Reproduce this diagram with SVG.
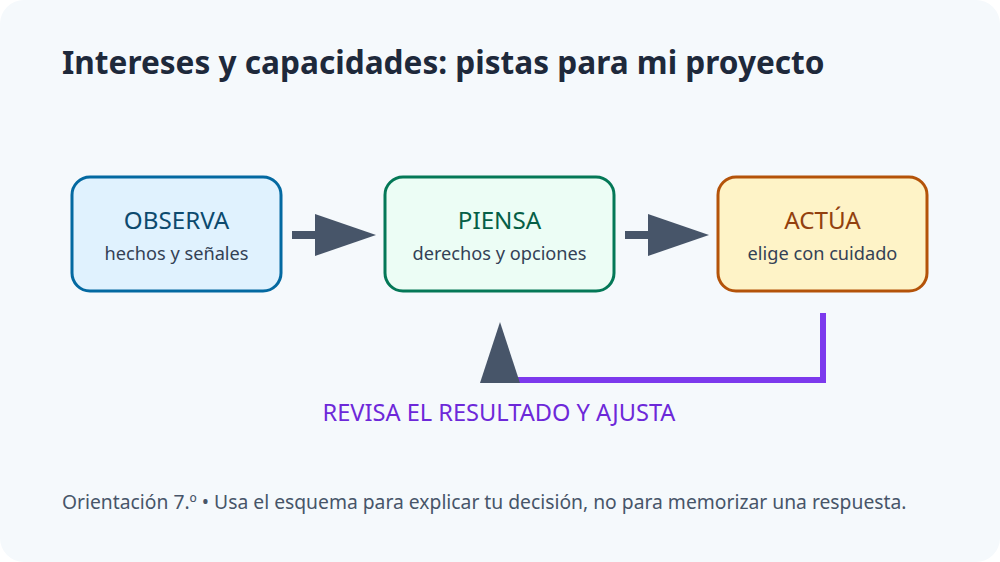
<svg xmlns="http://www.w3.org/2000/svg" width="1000" height="562" viewBox="0 0 1000 562">
<style>
text{font-family:"Noto Sans","Open Sans","DejaVu Sans",sans-serif}
.title{font-size:31.6px;font-weight:700;fill:#1e293b}
.nt{font-size:24.2px;text-anchor:middle}
.ns{font-size:18.2px;text-anchor:middle;fill:#334155}
.box{stroke-width:3}
.flow{stroke:#475569;stroke-width:8;fill:none}
.fb{stroke:#7c3aed;stroke-width:6;fill:none}
</style>
<defs>
<marker id="ah" markerUnits="userSpaceOnUse" markerWidth="62" markerHeight="42" refX="5" refY="21" orient="auto" viewBox="0 0 62 42">
<path d="M0,0 L61,21 L0,42 Z" fill="#475569"/>
</marker>
<marker id="ah2" markerUnits="userSpaceOnUse" markerWidth="62" markerHeight="42" refX="5" refY="20" orient="auto" viewBox="0 0 62 42">
<path d="M0,0 L61,20 L0,40 Z" fill="#475569"/>
</marker>
</defs>
<rect x="0" y="0" width="1000" height="562" fill="#ffffff"/>
<rect x="0" y="0" width="1000" height="562" rx="24" fill="#f5f9fc"/>
<text class="title" x="62" y="74">Intereses y capacidades: pistas para mi proyecto</text>
<g id="connectors">
<line class="flow" x1="292" y1="235" x2="320" y2="235" marker-end="url(#ah)"/>
<line class="flow" x1="625" y1="235" x2="653" y2="235" marker-end="url(#ah)"/>
<path class="fb" d="M823,313 V380 H500 V378" marker-end="url(#ah2)"/>
</g>
<g id="observa">
<rect class="box" x="72" y="177" width="209" height="114" rx="18" fill="#e0f2fe" stroke="#0369a1"/>
<text class="nt" x="176.5" y="229" fill="#0c4a6e">OBSERVA</text>
<text class="ns" x="176.5" y="260">hechos y señales</text>
</g>
<g id="piensa">
<rect class="box" x="385" y="177" width="229" height="114" rx="18" fill="#ecfdf5" stroke="#047857"/>
<text class="nt" x="499.5" y="229" fill="#065f46">PIENSA</text>
<text class="ns" x="499.5" y="260">derechos y opciones</text>
</g>
<g id="actua">
<rect class="box" x="718" y="177" width="209" height="114" rx="18" fill="#fef3c7" stroke="#b45309"/>
<text class="nt" x="822.5" y="229" fill="#92400e">ACTÚA</text>
<text class="ns" x="822.5" y="260">elige con cuidado</text>
</g>
<g id="feedback-label">
<text x="499" y="421" font-size="23.6" text-anchor="middle" fill="#6d28d9">REVISA EL RESULTADO Y AJUSTA</text>
</g>
<text x="62" y="509" font-size="19.3" fill="#475569">Orientación 7.º • Usa el esquema para explicar tu decisión, no para memorizar una respuesta.</text>
</svg>
